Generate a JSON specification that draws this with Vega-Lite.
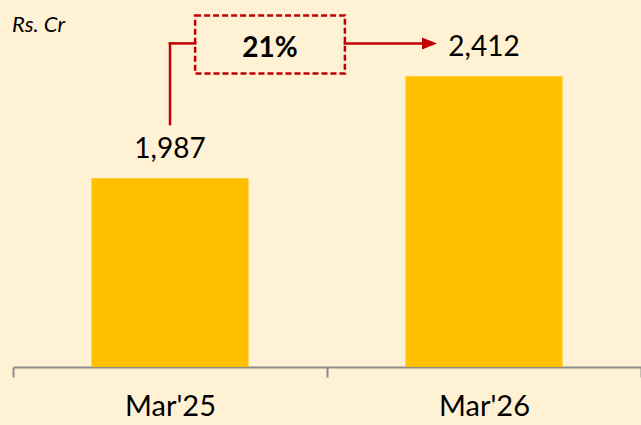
{
  "$schema": "https://vega.github.io/schema/vega-lite/v6.json",
  "width": 628,
  "height": 367,
  "autosize": {"type": "none"},
  "padding": {"left": 13, "top": 0, "right": 0, "bottom": 58},
  "background": "#FFF2D4",
  "config": {"view": {"stroke": null}},
  "datasets": {
    "bars": [
      {"period": "Mar'25", "value": 1987},
      {"period": "Mar'26", "value": 2412}
    ],
    "segments": [
      {"x": 0.5, "x2": 0.5, "y": 2213, "y2": 2549},
      {"x": 0.5, "x2": 0.58, "y": 2549, "y2": 2549},
      {"x": 1.057, "x2": 1.305, "y": 2549, "y2": 2549}
    ],
    "box": [
      {"x": 0.58, "x2": 1.057, "y": 2424, "y2": 2665, "label": "21%", "ly": 2492, "lx": 0.8185}
    ],
    "head": [
      {"x": 1.3264, "y": 2549}
    ],
    "unit": [
      {"x": -0.003, "y": 2597, "label": "Rs. Cr"}
    ]
  },
  "layer": [
    {
      "data": {"name": "bars"},
      "encoding": {
        "x": {"field": "period", "type": "nominal", "sort": null,
          "scale": {"paddingInner": 0, "paddingOuter": 0},
          "axis": {"title": null, "labelAngle": 0, "labelFont": "Lato", "labelFontSize": 29, "labelColor": "#000000", "labelPadding": 15, "domainColor": "#8C8C8C", "domainWidth": 2, "tickColor": "#8C8C8C", "tickWidth": 2, "tickSize": 10, "tickBand": "extent"}},
        "y": {"field": "value", "type": "quantitative", "scale": {"domain": [1200, 2730], "zero": false, "nice": false}, "axis": null}
      },
      "layer": [
        {"mark": {"type": "bar", "color": "#FFC000", "width": {"band": 0.5}}, "encoding": {"y2": {"datum": 1200}}},
        {"mark": {"type": "text", "font": "Lato", "fontSize": 28, "color": "#000000", "baseline": "alphabetic", "dy": -20},
         "encoding": {"text": {"field": "value", "type": "quantitative", "format": ",.0f"}}}
      ]
    },
    {
      "layer": [
        {
          "data": {"name": "segments"},
          "mark": {"type": "rule", "color": "#C00000", "strokeWidth": 2.5, "strokeCap": "square"},
          "encoding": {
            "x": {"field": "x", "type": "quantitative", "scale": {"domain": [0, 2], "nice": false, "zero": false}, "axis": null},
            "x2": {"field": "x2"},
            "y": {"field": "y", "type": "quantitative", "scale": {"domain": [1200, 2730], "zero": false, "nice": false}, "axis": null},
            "y2": {"field": "y2"}
          }
        },
        {
          "data": {"name": "box"},
          "mark": {"type": "rect", "fill": null, "stroke": "#C00000", "strokeWidth": 2.5, "strokeDash": [6, 3]},
          "encoding": {
            "x": {"field": "x", "type": "quantitative"},
            "x2": {"field": "x2"},
            "y": {"field": "y", "type": "quantitative"},
            "y2": {"field": "y2"}
          }
        },
        {
          "data": {"name": "box"},
          "mark": {"type": "text", "font": "Lato", "fontSize": 28, "fontWeight": "bold", "color": "#000000", "baseline": "alphabetic", "align": "center"},
          "encoding": {
            "x": {"field": "lx", "type": "quantitative"},
            "y": {"field": "ly", "type": "quantitative"},
            "text": {"field": "label"}
          }
        },
        {
          "data": {"name": "head"},
          "mark": {"type": "point", "shape": "M-1,-0.8L1,0L-1,0.8Z", "filled": true, "color": "#C00000", "opacity": 1, "size": 225},
          "encoding": {
            "x": {"field": "x", "type": "quantitative"},
            "y": {"field": "y", "type": "quantitative"}
          }
        },
        {
          "data": {"name": "unit"},
          "mark": {"type": "text", "font": "Lato", "fontSize": 22, "fontStyle": "italic", "color": "#000000", "baseline": "alphabetic", "align": "left"},
          "encoding": {
            "x": {"field": "x", "type": "quantitative"},
            "y": {"field": "y", "type": "quantitative"},
            "text": {"field": "label"}
          }
        }
      ]
    }
  ],
  "resolve": {"scale": {"x": "independent"}}
}
